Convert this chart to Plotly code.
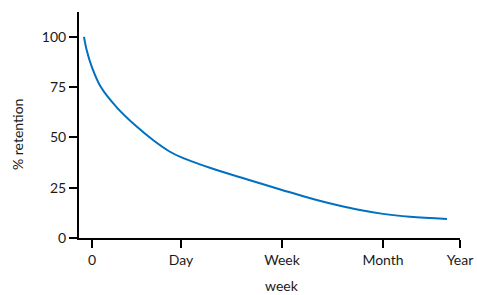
import plotly.graph_objects as go

# Curve samples (x in axis units where 0 -> "0", 1 -> "Day")
time_x = [-0.090, -0.060, -0.003, 0.098, 0.278, 0.502, 0.689, 0.876,
          1.000, 1.400, 1.738, 2.135, 2.483, 2.750, 3.011, 3.270, 3.573, 3.989]
retention = [100, 93.5, 85.2, 75.2, 65.0, 55.4, 48.6, 42.9,
             40.2, 33.8, 29.2, 23.9, 19.4, 16.4, 13.9, 12.0, 10.6, 9.5]

tick_positions = [0, 1, 2.135, 3.27, 4.135]
tick_labels = ["0", "Day", "Week", "Month", "Year"]
y_ticks = [0, 25, 50, 75, 100]

fig = go.Figure(go.Scatter(
    x=time_x, y=retention, mode="lines",
    line=dict(color="#0070C0", width=2, shape="spline", smoothing=1.0),
    hoverinfo="skip"))

font = dict(family="Lato, Carlito, Open Sans, sans-serif", size=14, color="#1a1a1a")

L, R, T, B = 79, 17, 12, 57
W, H = 477, 295
pw = W - L - R
ph = H - T - B

fig.update_layout(
    width=W, height=H,
    margin=dict(l=L, r=R, t=T, b=B),
    paper_bgcolor="white", plot_bgcolor="white",
    showlegend=False, font=font,
    annotations=[
        dict(text="week", xref="paper", yref="paper",
             x=(282 - L) / pw, y=(H - B - 285) / ph, showarrow=False,
             font=font, yanchor="middle", xanchor="center"),
        dict(text="% retention", xref="paper", yref="paper",
             x=(17 - L) / pw, y=(H - B - 135) / ph, showarrow=False, textangle=-90,
             font=font, xanchor="center", yanchor="middle"),
    ],
)

fig.update_xaxes(
    range=[-0.146, 4.135], tickvals=tick_positions, ticktext=tick_labels,
    showline=True, linecolor="black", linewidth=2, showgrid=False, zeroline=False,
    ticks="outside", ticklen=8, tickwidth=2, tickcolor="black",
    automargin=False, tickfont=font,
)
fig.update_yaxes(
    range=[0, 112.4], tickvals=y_ticks,
    showline=True, linecolor="black", linewidth=2, showgrid=False, zeroline=False,
    ticks="outside", ticklen=8, tickwidth=2, tickcolor="black",
    automargin=False, tickfont=font,
)
fig.write_html("out.html", config={"displayModeBar": False},
               post_script="document.body.style.margin='0px';")
